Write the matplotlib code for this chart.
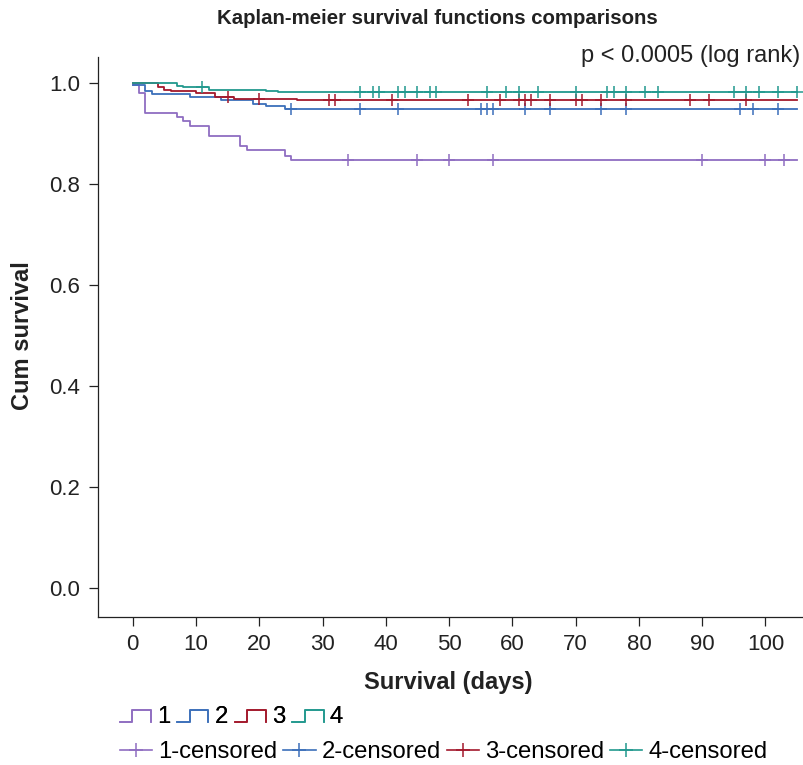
import numpy as np
import matplotlib
matplotlib.use("Agg")
import matplotlib.pyplot as plt
from matplotlib.lines import Line2D
from matplotlib.legend_handler import HandlerBase

plt.rcParams['font.family'] = ['Liberation Sans', 'DejaVu Sans']

# step curves (time in days, cumulative survival)
g1_times = [0, 1, 2, 7, 8, 9, 12, 17, 18, 24, 25, 105]
g1_surv = [0.995, 0.98, 0.94, 0.932, 0.923, 0.913, 0.894, 0.875, 0.866, 0.855, 0.846, 0.846]
g2_times = [0, 2, 3, 9, 14, 19, 21, 24, 105]
g2_surv = [0.995, 0.984, 0.978, 0.972, 0.966, 0.958, 0.953, 0.947, 0.947]
g3_times = [0, 4, 5, 6, 10, 13, 16, 26, 105]
g3_surv = [1.0, 0.991, 0.986, 0.983, 0.979, 0.972, 0.968, 0.965, 0.965]
g4_times = [0, 7, 8, 12, 21, 23, 105]
g4_surv = [1.0, 0.994, 0.991, 0.986, 0.984, 0.982, 0.982]

# censored times
c1 = [34, 45, 50, 57, 90, 100, 103]
c2 = [25, 36, 42, 55, 56, 57, 62, 66, 74, 78, 96, 98, 102]
c3 = [15, 20, 31, 32, 41, 53, 58, 61, 62, 63, 66, 70, 71, 74, 78, 88, 91, 97]
c4 = [11, 36, 38, 39, 42, 43, 45, 47, 48, 56, 59, 61, 64, 70, 75, 76, 78,
      81, 83, 95, 97, 99, 102, 105]

labels = ['1', '2', '3', '4']
colors = ['#8f6dc1', '#3c6fba', '#a3192c', '#22998e']


def surv_at(times, surv, t):
    idx = np.searchsorted(times, t, side='right') - 1
    return np.asarray(surv)[idx]


class StepHandler(HandlerBase):
    # little step icon: low, up, across, down
    def create_artists(self, legend, orig_handle, xdescent, ydescent,
                       width, height, fontsize, trans):
        x0 = -xdescent
        y0 = -ydescent + 0.05 * height
        y1 = -ydescent + 0.75 * height
        xs = [x0, x0 + 0.4 * width, x0 + 0.4 * width, x0 + width, x0 + width]
        ys = [y0, y0, y1, y1, y0]
        ln = Line2D(xs, ys, color=orig_handle.get_color(), lw=1.2, transform=trans)
        return [ln]


fig = plt.figure(figsize=(8.04, 7.65), dpi=100)
ax = fig.add_axes([0.1215, 0.1935, 0.877, 0.7317])

curves = [(g1_times, g1_surv, c1), (g2_times, g2_surv, c2),
          (g3_times, g3_surv, c3), (g4_times, g4_surv, c4)]

step_handles = []
cens_handles = []
for (t, s, c), lab, col in zip(curves, labels, colors):
    ln, = ax.step(t, s, where='post', color=col, lw=1.3)
    ax.plot(c, surv_at(t, s, c), ls='none', marker='+', ms=9, mew=1.1, color=col)
    step_handles.append(ln)
    cens_handles.append(Line2D([], [], color=col, lw=1.2, marker='+', ms=10, mew=1.1))

ax.set_xlim(-5.53, 105.9)
ax.set_ylim(-0.057, 1.05)
ax.set_xticks(np.arange(0, 101, 10))
ax.set_yticks(np.arange(0, 1.01, 0.2))
ax.set_yticklabels(['%.1f' % v for v in np.arange(0, 1.01, 0.2)])
ax.tick_params(labelsize=16, length=6.5, width=0.9, colors='#222222', pad=6)
for sp in ['top', 'right']:
    ax.spines[sp].set_visible(False)
for sp in ['left', 'bottom']:
    ax.spines[sp].set_linewidth(0.9)
    ax.spines[sp].set_color('#222222')

fig.text(448 / 804, 1 - 683 / 765, 'Survival (days)', ha='center', va='center',
         fontsize=17, fontweight='bold', color='#222222')
fig.text(23 / 804, 1 - 336 / 765, 'Cum survival', ha='center', va='center',
         rotation=90, fontsize=17, fontweight='bold', color='#222222')

fig.text(437 / 804, 1 - 19 / 765, 'Kaplan-meier survival functions comparisons',
         ha='center', va='center', fontsize=14.7, fontweight='bold', color='#222222')
fig.text(800 / 804, 1 - 56 / 765, 'p < 0.0005 (log rank)', ha='right', va='center',
         fontsize=17, color='#222222')

leg1 = fig.legend(step_handles, labels, loc='center left',
                  bbox_to_anchor=(120 / 804, 1 - 717 / 765), ncol=4, frameon=False,
                  fontsize=17.2, handlelength=1.3, handletextpad=0.25,
                  columnspacing=0.3, borderaxespad=0, borderpad=0,
                  handler_map={Line2D: StepHandler()})
fig.add_artist(leg1)
fig.legend(cens_handles, [l + '-censored' for l in labels], loc='center left',
           bbox_to_anchor=(120 / 804, 1 - 752 / 765), ncol=4, frameon=False,
           fontsize=17.2, handlelength=1.35, handletextpad=0.25,
           columnspacing=0.25, borderaxespad=0, borderpad=0)

fig.savefig('out.png', dpi=100)
